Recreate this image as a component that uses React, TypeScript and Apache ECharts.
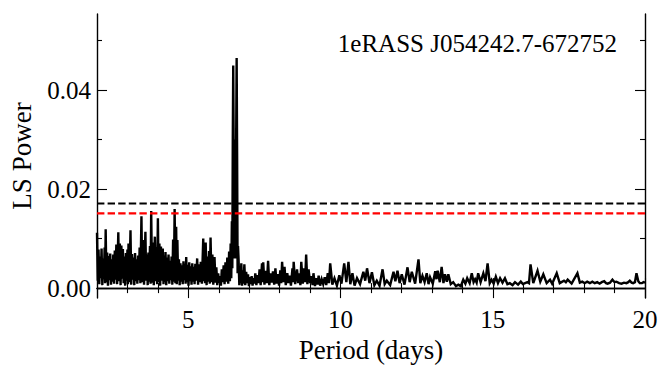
import React, { useEffect, useRef } from "react";
import * as echarts from "echarts";

// Lomb-Scargle periodogram of 1eRASS J054242.7-672752
const shortPeriods: [number, number][] = [
  [2.000,0.0112],[2.025,0.0015],[2.050,0.0078],[2.075,0.0008],[2.100,0.0064],[2.125,0.0020],[2.150,0.0080],[2.175,0.0006],
  [2.200,0.0060],[2.225,0.0018],[2.250,0.0082],[2.265,0.0010],[2.285,0.0119],[2.310,0.0012],[2.335,0.0072],[2.360,0.0005],
  [2.385,0.0065],[2.410,0.0016],[2.435,0.0070],[2.460,0.0007],[2.485,0.0058],[2.510,0.0013],[2.535,0.0068],[2.560,0.0009],
  [2.585,0.0076],[2.610,0.0017],[2.635,0.0088],[2.660,0.0008],[2.700,0.0113],[2.725,0.0014],[2.750,0.0090],[2.775,0.0006],
  [2.800,0.0086],[2.825,0.0019],[2.850,0.0079],[2.875,0.0010],[2.900,0.0064],[2.925,0.0005],[2.950,0.0071],[2.975,0.0015],
  [3.000,0.0078],[3.015,0.0008],[3.035,0.0090],[3.065,0.0012],[3.100,0.0117],[3.125,0.0007],[3.150,0.0069],[3.175,0.0017],
  [3.200,0.0062],[3.225,0.0006],[3.250,0.0071],[3.275,0.0014],[3.300,0.0058],[3.325,0.0009],[3.350,0.0066],[3.375,0.0016],
  [3.400,0.0082],[3.425,0.0010],[3.460,0.0145],[3.485,0.0012],[3.520,0.0097],[3.545,0.0007],[3.590,0.0114],[3.615,0.0015],
  [3.640,0.0068],[3.665,0.0006],[3.690,0.0072],[3.715,0.0013],[3.740,0.0085],[3.760,0.0009],[3.780,0.0156],[3.810,0.0011],
  [3.840,0.0092],[3.865,0.0006],[3.900,0.0104],[3.925,0.0014],[3.950,0.0083],[3.975,0.0008],[4.000,0.0141],[4.025,0.0012],
  [4.050,0.0090],[4.075,0.0005],[4.100,0.0084],[4.125,0.0015],[4.160,0.0080],[4.185,0.0008],[4.210,0.0066],[4.230,0.0012],
  [4.250,0.0073],[4.275,0.0006],[4.300,0.0062],[4.325,0.0014],[4.350,0.0068],[4.375,0.0009],[4.400,0.0055],[4.425,0.0016],
  [4.450,0.0064],[4.475,0.0007],[4.500,0.0098],[4.525,0.0013],[4.550,0.0160],[4.575,0.0010],[4.600,0.0124],[4.620,0.0008],
  [4.640,0.0097],[4.665,0.0015],[4.690,0.0058],[4.715,0.0006],[4.740,0.0050],[4.765,0.0013],[4.790,0.0046],[4.815,0.0008],
  [4.840,0.0054],[4.865,0.0016],[4.890,0.0049],[4.910,0.0009],[4.930,0.0063],[4.955,0.0012],[4.980,0.0047],[5.005,0.0005],
  [5.030,0.0052],[5.055,0.0014],[5.080,0.0044],[5.105,0.0007],[5.130,0.0050],[5.155,0.0013],[5.180,0.0043],[5.205,0.0008],
  [5.230,0.0049],[5.260,0.0015],[5.290,0.0060],[5.320,0.0007],[5.350,0.0048],[5.380,0.0012],[5.410,0.0053],[5.445,0.0009],
  [5.490,0.0100],[5.510,0.0014],[5.530,0.0086],[5.550,0.0010],[5.570,0.0092],[5.600,0.0006],[5.630,0.0064],[5.655,0.0013],
  [5.680,0.0075],[5.705,0.0009],[5.730,0.0102],[5.760,0.0012],[5.790,0.0068],[5.820,0.0007],[5.860,0.0063],[5.890,0.0011],
  [5.920,0.0042],[5.950,0.0006],[5.980,0.0030],[6.010,0.0010],[6.040,0.0024],[6.070,0.0005],[6.100,0.0038],[6.130,0.0012],
  [6.160,0.0046],[6.190,0.0008],[6.220,0.0052],[6.250,0.0013],[6.280,0.0062],[6.310,0.0009],[6.340,0.0074],[6.365,0.0014],
  [6.390,0.0090],[6.410,0.0020],[6.430,0.0135],[6.445,0.0040],
];

const peakRegion: [number, number][] = [
  [6.460,0.0300],[6.475,0.0450],[6.492,0.0240],[6.503,0.0060],[6.515,0.0290],[6.530,0.0300],[6.545,0.0280],[6.556,0.0060],
  [6.568,0.0270],[6.587,0.0465],[6.603,0.0260],[6.618,0.0030],[6.632,0.0085],[6.650,0.0058],[6.675,0.0006],
];

const longPeriods: [number, number][] = [
  [6.700,0.0042],[6.720,0.0010],[6.740,0.0050],[6.765,0.0005],[6.790,0.0036],[6.815,0.0009],[6.840,0.0048],[6.870,0.0006],
  [6.900,0.0033],[6.930,0.0010],[6.960,0.0028],[6.990,0.0004],[7.020,0.0022],[7.050,0.0008],[7.080,0.0024],[7.110,0.0005],
  [7.140,0.0020],[7.170,0.0009],[7.200,0.0030],[7.235,0.0006],[7.270,0.0026],[7.305,0.0010],[7.340,0.0038],[7.375,0.0006],
  [7.420,0.0050],[7.440,0.0012],[7.460,0.0052],[7.500,0.0007],[7.540,0.0035],[7.580,0.0010],[7.620,0.0055],[7.660,0.0006],
  [7.700,0.0030],[7.740,0.0011],[7.780,0.0034],[7.820,0.0007],[7.860,0.0040],[7.900,0.0009],[7.940,0.0028],[7.980,0.0005],
  [8.020,0.0036],[8.050,0.0010],[8.080,0.0053],[8.120,0.0012],[8.160,0.0043],[8.200,0.0006],[8.250,0.0030],[8.290,0.0010],
  [8.330,0.0025],[8.370,0.0005],[8.420,0.0040],[8.440,0.0012],[8.460,0.0053],[8.510,0.0008],[8.570,0.0038],[8.610,0.0010],
  [8.650,0.0030],[8.680,0.0006],[8.710,0.0053],[8.760,0.0009],[8.800,0.0040],[8.835,0.0012],[8.870,0.0068],[8.910,0.0008],
  [8.950,0.0038],[9.000,0.0010],[9.050,0.0024],[9.080,0.0006],[9.110,0.0030],[9.160,0.0004],[9.210,0.0020],[9.245,0.0007],
  [9.280,0.0025],[9.330,0.0005],[9.380,0.0018],[9.430,0.0008],[9.480,0.0022],[9.530,0.0006],[9.580,0.0030],[9.620,0.0010],
  [9.660,0.0050],[9.730,0.0007],[9.800,0.0020],[9.880,0.0005],[9.960,0.0026],[10.030,0.0009],[10.120,0.0050],[10.190,0.0012],
  [10.260,0.0053],[10.320,0.0008],[10.390,0.0030],[10.460,0.0005],[10.540,0.0020],[10.640,0.0008],[10.750,0.0033],[10.810,0.0015],
  [10.870,0.0040],[10.950,0.0010],[11.030,0.0032],[11.110,0.0006],[11.190,0.0015],[11.280,0.0005],[11.380,0.0038],[11.450,0.0008],
  [11.520,0.0015],[11.630,0.0006],[11.740,0.0033],[11.800,0.0014],[11.870,0.0035],[11.940,0.0010],[12.010,0.0028],[12.100,0.0007],
  [12.200,0.0042],[12.270,0.0012],[12.340,0.0033],[12.450,0.0009],[12.560,0.0058],[12.620,0.0010],[12.690,0.0025],[12.760,0.0012],
  [12.830,0.0030],[12.890,0.0008],[12.940,0.0022],[13.030,0.0009],[13.110,0.0034],[13.150,0.0018],[13.190,0.0035],[13.260,0.0012],
  [13.320,0.0043],[13.380,0.0010],[13.430,0.0028],[13.490,0.0013],[13.540,0.0028],[13.620,0.0008],[13.700,0.0012],[13.790,0.0004],
  [13.870,0.0007],[13.950,0.0004],[14.030,0.0017],[14.100,0.0009],[14.160,0.0020],[14.240,0.0010],[14.310,0.0030],[14.370,0.0012],
  [14.420,0.0018],[14.470,0.0011],[14.520,0.0030],[14.600,0.0012],[14.690,0.0030],[14.760,0.0014],[14.830,0.0050],[14.900,0.0010],
  [14.960,0.0017],[15.030,0.0009],[15.100,0.0023],[15.170,0.0010],[15.240,0.0020],[15.320,0.0011],[15.400,0.0020],[15.480,0.0008],
  [15.560,0.0010],[15.650,0.0006],[15.730,0.0012],[15.830,0.0007],[15.920,0.0013],[15.990,0.0008],[16.060,0.0010],[16.140,0.0012],
  [16.190,0.0010],[16.240,0.0048],[16.330,0.0010],[16.470,0.0035],[16.560,0.0013],[16.660,0.0028],[16.770,0.0010],[16.880,0.0017],
  [16.950,0.0009],[17.100,0.0030],[17.200,0.0010],[17.340,0.0015],[17.400,0.0012],[17.460,0.0017],[17.590,0.0009],[17.780,0.0030],
  [17.860,0.0011],[17.940,0.0013],[18.020,0.0010],[18.100,0.0013],[18.190,0.0010],[18.270,0.0013],[18.350,0.0010],[18.430,0.0012],
  [18.510,0.0009],[18.580,0.0012],[18.660,0.0014],[18.720,0.0010],[18.770,0.0009],[18.850,0.0011],[18.930,0.0017],[19.000,0.0012],
  [19.060,0.0013],[19.150,0.0010],[19.230,0.0009],[19.310,0.0011],[19.390,0.0010],[19.450,0.0012],[19.500,0.0015],[19.560,0.0011],
  [19.610,0.0010],[19.670,0.0012],[19.720,0.0030],[19.780,0.0014],[19.830,0.0010],[19.900,0.0010],[19.950,0.0012],[20.000,0.0011],
];

// significance thresholds (black and red dashed)
const thresholdBlack = 0.0171;
const thresholdRed = 0.0151;

const xRange = [2, 20];
const yRange = [-0.002, 0.0554];
const xMajorTicks = [5, 10, 15, 20];
const xMinorTicks = [3, 4, 6, 7, 8, 9, 11, 12, 13, 14, 16, 17, 18, 19];
const yMajorTicks = [0, 0.02, 0.04];
const yMinorTicks = [0.01, 0.03, 0.05];

const titleText = "1eRASS J054242.7-672752";
const xName = "Period (days)";
const yName = "LS Power";

const FONT = "'Liberation Serif', 'Times New Roman', 'DejaVu Serif', serif";

export default function App() {
  const ref = useRef<HTMLDivElement>(null);
  useEffect(() => {
    if (!ref.current) return;
    const chart = echarts.init(ref.current, null, { renderer: "svg" });
    const lineCol = "#000";
    const frame = { show: true, lineStyle: { color: lineCol, width: 1.4 } };
    const mkX = (pos: string, ticks: number[], len: number, main: boolean, showLine: boolean) => ({
      type: "value",
      position: pos,
      min: xRange[0],
      max: xRange[1],
      axisLine: showLine ? frame : { show: false },
      axisTick: { show: true, inside: true, length: len, customValues: ticks, lineStyle: { color: lineCol, width: 1.1 } },
      axisLabel: main
        ? { show: true, customValues: xMajorTicks, formatter: (v: number) => String(v), fontFamily: FONT, fontSize: 25, color: "#000", margin: 9 }
        : { show: false },
      splitLine: { show: false },
      name: main ? xName : "",
      nameLocation: "middle",
      nameGap: 37,
      nameTextStyle: { fontFamily: FONT, fontSize: 27, color: "#000" },
    });
    const mkY = (pos: string, ticks: number[], len: number, main: boolean, showLine: boolean) => ({
      type: "value",
      position: pos,
      min: yRange[0],
      max: yRange[1],
      axisLine: showLine ? frame : { show: false },
      axisTick: { show: true, inside: true, length: len, customValues: ticks, lineStyle: { color: lineCol, width: 1.1 } },
      axisLabel: main
        ? { show: true, customValues: yMajorTicks, formatter: (v: number) => v.toFixed(2), fontFamily: FONT, fontSize: 25, color: "#000", margin: 6 }
        : { show: false },
      splitLine: { show: false },
      name: main ? yName : "",
      nameLocation: "middle",
      nameRotate: 90,
      nameGap: 62,
      nameTextStyle: { fontFamily: FONT, fontSize: 27, color: "#000" },
    });
    const curve = [...shortPeriods, ...peakRegion, ...longPeriods];
    chart.setOption({
      animation: false,
      backgroundColor: "#fff",
      textStyle: { fontFamily: FONT },
      grid: { left: 96, right: 27, top: 14, bottom: 80, containLabel: false },
      xAxis: [
        mkX("bottom", xMajorTicks, 10, true, true),
        mkX("bottom", xMinorTicks, 5, false, false),
        mkX("top", xMajorTicks, 10, false, true),
        mkX("top", xMinorTicks, 5, false, false),
      ],
      yAxis: [
        mkY("left", yMajorTicks, 10, true, true),
        mkY("left", yMinorTicks, 5, false, false),
        mkY("right", yMajorTicks, 10, false, true),
        mkY("right", yMinorTicks, 5, false, false),
      ],
      graphic: [
        {
          type: "text",
          x: 617,
          y: 43,
          style: { text: titleText, fontFamily: FONT, fontSize: 25, fill: "#000", textAlign: "right", textVerticalAlign: "middle" },
        },
      ],
      series: [
        {
          type: "line",
          name: "LS power",
          data: curve,
          xAxisIndex: 0,
          yAxisIndex: 0,
          showSymbol: false,
          symbol: "none",
          smooth: false,
          lineStyle: { color: "#000", width: 2.4, join: "miter" },
          clip: true,
          z: 2,
        },
        {
          type: "line",
          name: "threshold high",
          data: [[xRange[0], thresholdBlack], [xRange[1], thresholdBlack]],
          showSymbol: false,
          symbol: "none",
          lineStyle: { color: "#000", width: 2.2, type: [7.4, 3.2] },
          z: 3,
        },
        {
          type: "line",
          name: "threshold low",
          data: [[xRange[0], thresholdRed], [xRange[1], thresholdRed]],
          showSymbol: false,
          symbol: "none",
          lineStyle: { color: "#ff0000", width: 2.2, type: [7.4, 3.2] },
          z: 3,
        },
      ],
    });
    return () => chart.dispose();
  }, []);
  return <div ref={ref} style={{ position: "absolute", left: 0, top: 0, width: 672, height: 378 }} />;
}
